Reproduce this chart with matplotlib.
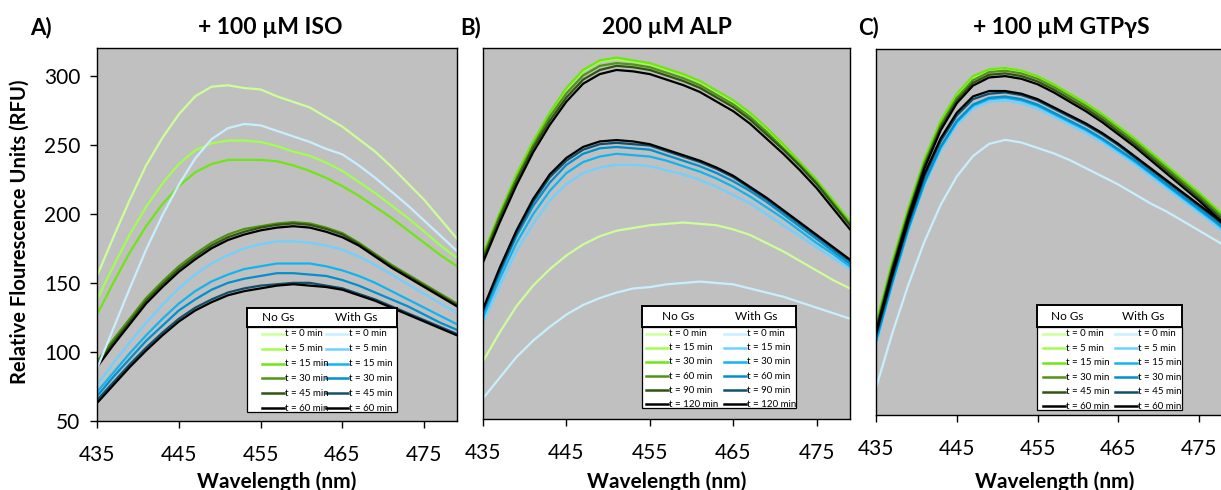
import matplotlib
matplotlib.use("Agg")
import matplotlib.pyplot as plt
from matplotlib.lines import Line2D
from matplotlib.patches import Rectangle

plt.rcParams["font.family"] = ["Lato", "DejaVu Sans"]

W, H = 1221, 490

wavelength = [435, 437, 439, 441, 443, 445, 447, 449, 451, 453, 455, 457,
              459, 461, 463, 465, 467, 469, 471, 473, 475, 477, 479]

# ---- A) + 100 uM ISO ----
iso_times = [0, 5, 15, 30, 45, 60]
iso_no_gs = [
    [155, 183, 210, 235, 255, 272, 285, 292, 293, 291, 290, 285, 281, 277, 270, 263, 254, 245, 234, 222, 210, 196, 182],
    [138, 162, 185, 205, 222, 236, 246, 251, 253, 253, 252, 249, 245, 242, 237, 231, 223, 215, 206, 197, 187, 177, 168],
    [127, 150, 172, 191, 207, 220, 230, 236, 239, 239, 239, 238, 235, 231, 226, 220, 213, 205, 197, 188, 179, 170, 162],
    [93, 109, 124, 139, 151, 162, 171, 179, 185, 189, 191, 193, 194, 193, 190, 186, 179, 171, 163, 156, 149, 142, 135],
    [91, 107, 122, 137, 149, 160, 169, 177, 183, 187, 190, 192, 193, 192, 189, 185, 178, 170, 162, 155, 148, 141, 134],
    [89, 105, 120, 135, 147, 158, 167, 175, 181, 185, 188, 190, 191, 190, 187, 183, 177, 169, 161, 154, 147, 140, 133],
]
iso_with_gs = [
    [88, 117, 146, 174, 199, 221, 240, 254, 262, 265, 264, 260, 256, 252, 247, 243, 235, 226, 216, 206, 195, 184, 173],
    [76, 92, 107, 121, 134, 146, 156, 164, 170, 175, 178, 180, 180, 179, 177, 174, 169, 163, 156, 149, 142, 135, 128],
    [71, 85, 99, 112, 124, 135, 144, 151, 156, 160, 162, 164, 164, 164, 162, 159, 155, 150, 144, 138, 132, 126, 120],
    [68, 82, 95, 108, 119, 130, 138, 145, 150, 153, 155, 157, 157, 156, 155, 152, 148, 143, 138, 133, 127, 121, 116],
    [65, 78, 91, 103, 114, 124, 132, 138, 143, 146, 148, 149, 150, 150, 148, 146, 142, 138, 133, 128, 123, 118, 113],
    [63, 76, 89, 101, 112, 122, 130, 136, 141, 144, 146, 148, 149, 148, 147, 145, 141, 137, 132, 127, 122, 117, 112],
]

# ---- B) 200 uM ALP ----
alp_times = [0, 15, 30, 60, 90, 120]
alp_no_gs = [
    [92, 113, 132, 147, 159, 169, 177, 183, 187, 189, 191, 192, 193, 192, 191, 188, 184, 178, 172, 165, 158, 151, 145],
    [169, 199, 227, 251, 272, 290, 303, 310, 312, 310, 308, 304, 300, 295, 288, 281, 272, 261, 249, 236, 223, 208, 193],
    [170, 200, 228, 252, 273, 291, 304, 311, 313, 311, 309, 305, 301, 296, 289, 282, 273, 262, 250, 237, 224, 209, 194],
    [168, 198, 225, 249, 270, 287, 300, 307, 309, 308, 306, 302, 298, 293, 286, 279, 270, 259, 247, 235, 222, 207, 192],
    [166, 196, 223, 247, 267, 284, 297, 304, 307, 306, 304, 300, 296, 291, 284, 277, 268, 257, 246, 234, 221, 206, 191],
    [164, 193, 220, 244, 264, 281, 294, 301, 304, 303, 301, 297, 293, 288, 281, 274, 265, 254, 243, 231, 218, 203, 188],
]
alp_with_gs = [
    [65, 80, 95, 107, 117, 126, 133, 138, 142, 145, 146, 148, 149, 150, 149, 148, 145, 142, 139, 135, 131, 127, 123],
    [120, 147, 172, 192, 209, 221, 229, 233, 235, 235, 234, 231, 228, 224, 219, 213, 207, 199, 191, 183, 175, 167, 159],
    [124, 152, 178, 199, 216, 229, 237, 241, 243, 242, 241, 238, 234, 230, 225, 219, 212, 204, 196, 187, 178, 170, 161],
    [127, 156, 183, 205, 222, 235, 243, 247, 248, 247, 246, 242, 238, 234, 229, 223, 216, 208, 199, 190, 181, 172, 163],
    [129, 158, 185, 208, 226, 238, 246, 250, 251, 250, 249, 245, 241, 237, 232, 226, 218, 210, 201, 192, 183, 174, 165],
    [130, 160, 187, 210, 228, 240, 248, 252, 253, 252, 250, 246, 242, 238, 233, 227, 219, 211, 202, 193, 184, 175, 166],
]

# ---- C) + 100 uM GTPyS ----
gtp_times = [0, 5, 15, 30, 45, 60]
gtp_no_gs = [
    [116, 161, 201, 237, 265, 285, 298, 304, 305, 303, 299, 293, 286, 279, 271, 262, 253, 243, 233, 223, 213, 202, 191],
    [117, 162, 202, 238, 266, 286, 299, 305, 306, 304, 300, 294, 287, 280, 272, 263, 254, 244, 234, 224, 214, 203, 192],
    [118, 163, 203, 239, 267, 287, 300, 305, 306, 304, 300, 294, 287, 280, 272, 263, 254, 244, 234, 224, 214, 203, 192],
    [115, 160, 200, 236, 264, 284, 297, 303, 304, 302, 298, 292, 285, 278, 270, 261, 252, 242, 232, 222, 212, 201, 190],
    [113, 158, 198, 234, 262, 282, 295, 301, 302, 300, 296, 290, 283, 276, 268, 259, 250, 240, 230, 220, 210, 199, 188],
    [111, 156, 196, 232, 260, 280, 293, 299, 300, 298, 294, 288, 281, 274, 266, 257, 248, 238, 228, 218, 208, 197, 186],
]
gtp_with_gs = [
    [70, 110, 146, 178, 205, 226, 241, 250, 253, 251, 247, 243, 238, 232, 226, 220, 213, 206, 200, 193, 186, 179, 172],
    [102, 145, 185, 219, 245, 264, 276, 281, 282, 280, 276, 270, 264, 258, 251, 243, 235, 226, 217, 208, 199, 190, 180],
    [104, 147, 187, 221, 247, 266, 278, 283, 284, 282, 278, 272, 266, 260, 253, 245, 237, 228, 219, 210, 201, 192, 182],
    [105, 148, 188, 222, 248, 267, 279, 284, 285, 283, 279, 273, 267, 261, 254, 246, 238, 229, 220, 211, 202, 193, 183],
    [108, 151, 191, 226, 252, 271, 283, 287, 288, 286, 282, 276, 270, 264, 257, 249, 240, 231, 222, 213, 204, 195, 185],
    [110, 153, 193, 228, 254, 273, 285, 289, 289, 287, 283, 277, 271, 265, 258, 250, 241, 232, 223, 214, 205, 196, 186],
]

titles = ["+ 100 \u00b5M ISO", "200 \u00b5M ALP", "+ 100 \u00b5M GTP\u03b3S"]
letters = ["A)", "B)", "C)"]

NO_GS_COLORS = ["#ccff99", "#a0ff50", "#6fe614", "#4f9414", "#2f5510", "#000000"]
WITH_GS_COLORS = ["#c8efff", "#70d0ff", "#10b4f2", "#0090d0", "#10506a", "#000000"]


def fx(x):
    return x / W


def fy(y):
    return 1 - y / H


fig = plt.figure(figsize=(W / 100, H / 100), dpi=100)

# axes boxes in pixels: left, right, top, bottom
boxes = [(97, 457, 48, 421), (483, 850, 48, 419), (876, 1231.5, 49, 415)]
# legend boxes: left, right, top, header bottom, bottom ; handle offsets ; header text offsets
keys = [
    ((247, 397, 308, 327, 412), (15, 79), (31, 109)),
    ((642, 796, 306, 327, 408), (4, 82), (36, 114)),
    ((1037, 1182, 305, 327, 410), (6, 78), (30, 106)),
]
xlabel_cx = [277, 667, 1055]
title_cx = [270, 667, 1061]
letter_cx = [41, 471, 869]

panels = [(iso_no_gs, iso_with_gs, iso_times),
          (alp_no_gs, alp_with_gs, alp_times),
          (gtp_no_gs, gtp_with_gs, gtp_times)]

for i, (no_gs, with_gs, times) in enumerate(panels):
    l, r, t, b = boxes[i]
    ax = fig.add_axes([fx(l), fy(b), (r - l) / W, (b - t) / H])
    ax.set_facecolor("#c0c0c0")
    for vals, c in zip(no_gs, NO_GS_COLORS):
        ax.plot(wavelength, vals, color=c, lw=1.6, solid_joinstyle="round")
    for vals, c in zip(with_gs, WITH_GS_COLORS):
        ax.plot(wavelength, vals, color=c, lw=1.6, solid_joinstyle="round")
    ax.set_xlim(435, 479)
    ax.set_ylim(50, 320)
    ax.set_xticks([435, 445, 455, 465, 475])
    ax.tick_params(axis="x", direction="out", length=5, width=1, pad=12, labelsize=15)
    if i == 0:
        ax.set_yticks([50, 100, 150, 200, 250, 300])
        ax.tick_params(axis="y", direction="out", length=5, width=1, pad=7, labelsize=15)
    else:
        ax.set_yticks([])
    for sp in ax.spines.values():
        sp.set_linewidth(1.0)

    # titles and labels
    fig.text(fx(title_cx[i]), fy(28), titles[i], ha="center", va="center",
             fontsize=16.5, fontweight="bold")
    fig.text(fx(letter_cx[i]), fy(28), letters[i], ha="center", va="center",
             fontsize=16, fontweight="bold")
    fig.text(fx(xlabel_cx[i]), fy(482), "Wavelength (nm)", ha="center", va="center",
             fontsize=15, fontweight="bold")

    # key box
    (kl, kr, kt, khb, kb), (h1, h2), (tx1, tx2) = keys[i]
    fig.add_artist(Rectangle((fx(kl), fy(kb)), (kr - kl) / W, (kb - khb) / H,
                             transform=fig.transFigure, facecolor="white",
                             edgecolor="black", lw=0.9, zorder=5))
    fig.add_artist(Rectangle((fx(kl), fy(khb)), (kr - kl) / W, (khb - kt) / H,
                             transform=fig.transFigure, facecolor="white",
                             edgecolor="black", lw=1.4, zorder=6))
    fig.text(fx(kl + tx1), fy((kt + khb) / 2), "No Gs", ha="center", va="center",
             fontsize=8.5, zorder=7)
    fig.text(fx(kl + tx2), fy((kt + khb) / 2), "With Gs", ha="center", va="center",
             fontsize=8.5, zorder=7)
    step = (kb - khb - 11) / 5
    for j, tm in enumerate(times):
        yy = khb + 7 + j * step
        for off, cols in ((h1, NO_GS_COLORS), (h2, WITH_GS_COLORS)):
            fig.add_artist(Line2D([fx(kl + off), fx(kl + off + 22)], [fy(yy), fy(yy)],
                                  transform=fig.transFigure, color=cols[j], lw=1.8, zorder=7))
            fig.text(fx(kl + off + 23), fy(yy), f"t = {tm} min", ha="left", va="center",
                     fontsize=7, zorder=7)

fig.text(fx(20), fy(232), "Relative Flourescence Units (RFU)", rotation=90,
         ha="center", va="center", fontsize=14.5, fontweight="bold")

fig.savefig("out.png", dpi=100)
